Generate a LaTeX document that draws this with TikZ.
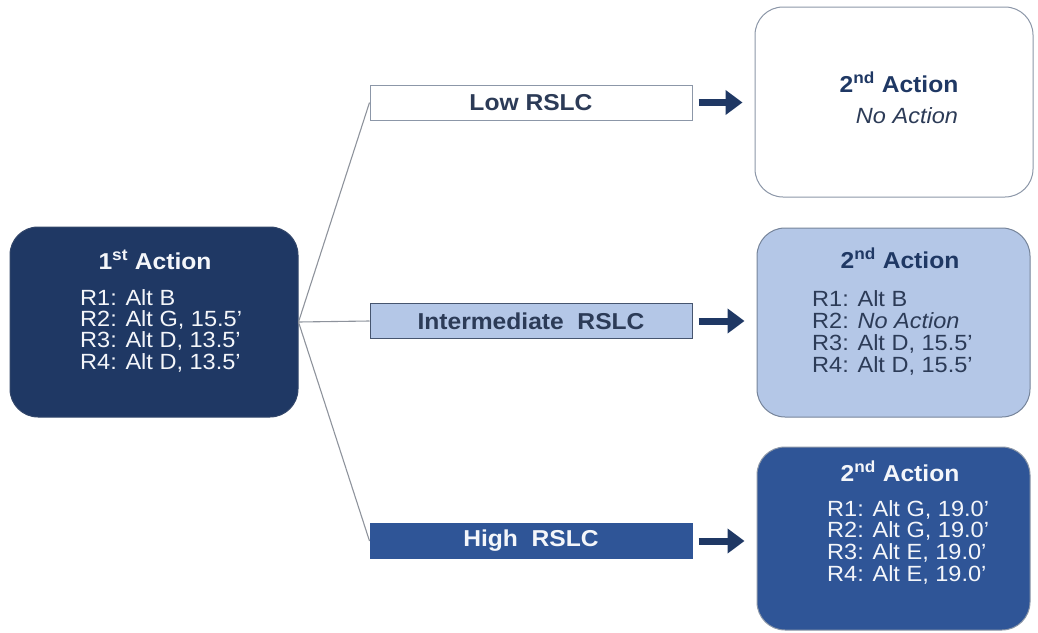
\documentclass[tikz,border=0pt]{standalone}
\usepackage{fontspec}
\setmainfont[FakeStretch=1.07]{Liberation Sans}
\usetikzlibrary{arrows.meta}
\definecolor{navy}{HTML}{1F3864}
\definecolor{midblue}{HTML}{2F5597}
\definecolor{lightblue}{HTML}{B4C7E7}
\definecolor{edgegray}{HTML}{8C97A8}
\definecolor{linegray}{HTML}{8E939C}
\definecolor{darktext}{HTML}{1F3864}
\definecolor{bodytext}{HTML}{2C3B57}
\definecolor{softwhite}{HTML}{F4F6FA}
\tikzset{
  x=1pt, y=-1pt,
  bigbox/.style={rounded corners=28pt, draw=edgegray, line width=1pt, inner sep=0pt},
  labelbox/.style={draw=edgegray, line width=1pt, minimum width=322pt, minimum height=35pt, inner sep=0pt,
    font=\fontsize{23}{26}\selectfont\bfseries},
  titletext/.style={inner sep=0pt, font=\fontsize{23}{26}\selectfont\bfseries},
  bodytextnode/.style={inner sep=0pt, anchor=north west, align=left},
  connector/.style={draw=linegray, line width=1.1pt},
  bigarrow/.style={draw=navy, line width=7pt, -{Triangle[length=17pt,width=24pt]}, shorten <=6pt, shorten >=12pt},
}
\begin{document}
\begin{tikzpicture}
\useasboundingbox (0,0) rectangle (1038,632);
% boxes
\node[bigbox, fill=navy, draw=navy!80!gray, minimum width=288pt, minimum height=190pt] (first) at (154,322) {};
\node[bigbox, fill=white, minimum width=278pt, minimum height=190pt] (r1) at (894,102) {};
\node[bigbox, fill=lightblue, draw=edgegray!80!navy, minimum width=273pt, minimum height=189pt] (r2) at (893.5,322.5) {};
\node[bigbox, fill=midblue, minimum width=273pt, minimum height=183pt] (r3) at (893.5,538.5) {};
% label boxes
\node[labelbox, fill=white, text=bodytext] (low) at (531,102.5) {Low RSLC};
\node[labelbox, fill=lightblue, draw=navy!60!gray, text=bodytext] (inter) at (531,321) {Intermediate\ \ RSLC};
\node[labelbox, fill=midblue, draw=midblue, text=softwhite] (high) at (531,541) {High\ \ RSLC};
% connectors
\draw[connector] (first.east) -- (low.west);
\draw[connector] (first.east) -- (inter.west);
\draw[connector] (first.east) -- (high.west);
% arrows
\draw[bigarrow] (low.east) -- (low.east -| r1.west);
\draw[bigarrow] (inter.east) -- (inter.east -| r2.west);
\draw[bigarrow] (high.east) -- (high.east -| r3.west);
% texts: first
\node[titletext, text=softwhite] (t0) at (155,260) {1\textsuperscript{st} Action};
\node[bodytextnode, text=softwhite, font=\fontsize{22}{21.4}\selectfont] (b0) at (80,289)
  {R1: Alt B\\R2: Alt G, 15.5'\\R3: Alt D, 13.5'\\R4: Alt D, 13.5'};
% r1
\node[titletext, text=darktext] (t1) at (899,82) {2\textsuperscript{nd} Action};
\node[inner sep=0pt, text=bodytext, font=\fontsize{22}{24}\selectfont\itshape] (b1) at (907,116) {No Action};
% r2
\node[titletext, text=darktext] (t2) at (900,258) {2\textsuperscript{nd} Action};
\node[bodytextnode, text=bodytext, font=\fontsize{22}{22}\selectfont] (b2) at (812,290)
  {R1: Alt B\\R2: \textit{No Action}\\R3: Alt D, 15.5'\\R4: Alt D, 15.5'};
% r3
\node[titletext, text=softwhite] (t3) at (900,471) {2\textsuperscript{nd} Action};
\node[bodytextnode, text=softwhite, font=\fontsize{22}{21.7}\selectfont] (b3) at (827,500)
  {R1: Alt G, 19.0'\\R2: Alt G, 19.0'\\R3: Alt E, 19.0'\\R4: Alt E, 19.0'};
\end{tikzpicture}
\end{document}
